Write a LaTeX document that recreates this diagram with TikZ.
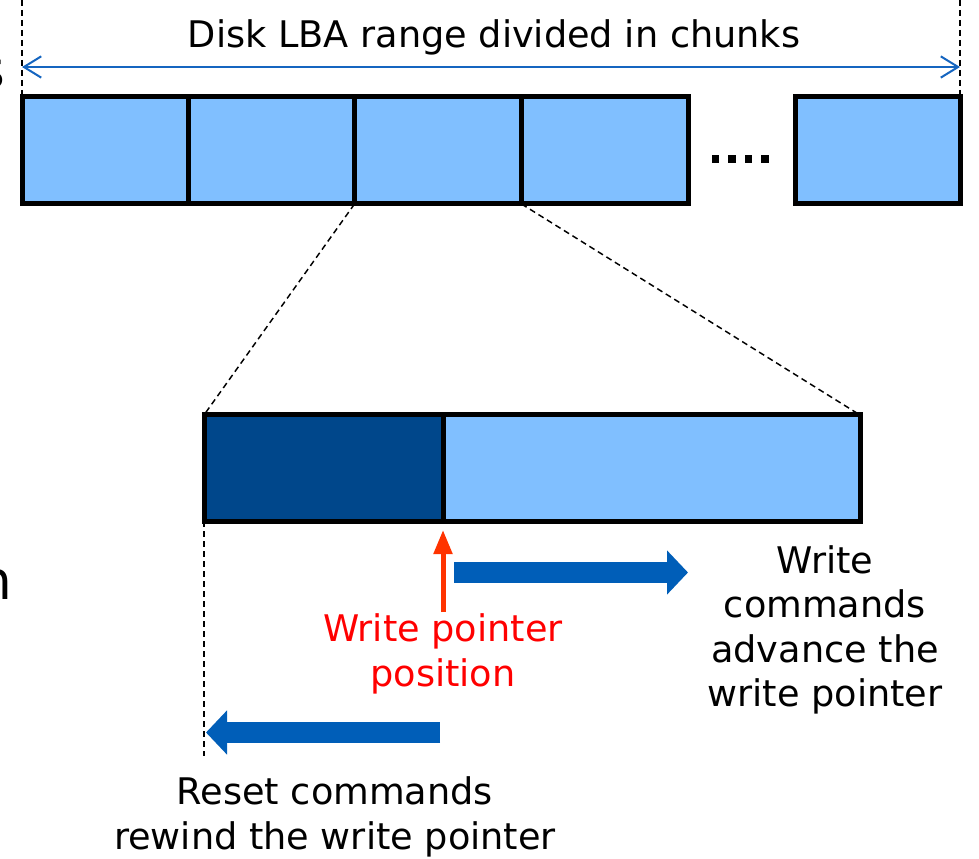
\documentclass[tikz,border=0pt]{standalone}
\usepackage{fontspec}
\setmainfont{DejaVu Sans}
\usetikzlibrary{arrows.meta}

\definecolor{chunklight}{RGB}{128,191,255}
\definecolor{chunkdark}{RGB}{0,71,139}
\definecolor{rangeblue}{RGB}{21,101,192}
\definecolor{cmdblue}{RGB}{0,94,184}
\definecolor{ptrred}{RGB}{255,51,0}
\definecolor{labelred}{RGB}{255,0,0}

\tikzset{
  chunk/.style={draw=black, line width=3.75pt, fill=chunklight, inner sep=0pt, outer sep=0pt,
    minimum width=125.25pt, minimum height=80.25pt},
  zoomline/.style={draw=black, line width=1.1pt, dash pattern=on 4.5pt off 3pt},
  caption/.style={font=\fontsize{27.5pt}{33.4pt}\selectfont, align=center, inner sep=0pt},
  bigcmd/.style={draw=cmdblue, line width=15.75pt,
    -{Triangle[length=15.75pt, width=32.25pt]}},
}

\begin{document}
\begin{tikzpicture}[x=0.75pt, y=-0.75pt]
  \useasboundingbox (0,0) rectangle (979,859);

  % chunk row
  \node[chunk] (c1) at (105.5,150.5) {};
  \node[chunk] (c2) at (272,150.5) {};
  \node[chunk] (c3) at (438,150.5) {};
  \node[chunk] (c4) at (604.5,150.5) {};
  \node[chunk, minimum width=123.75pt] (c5) at (877.5,150.5) {};

  % ellipsis between the last chunks
  \foreach \dx in {0,16.5,33,49.5}
    \fill (711.5+\dx,155.5) rectangle ++(7.5,7.5);

  % range marks and span arrow
  \coordinate (topL) at (22,0);
  \coordinate (topR) at (960,0);
  \draw[zoomline] (topL) -- (c1.north west);
  \draw[zoomline] (topR) -- (c5.north east);
  \coordinate (spanL) at (22,67);
  \coordinate (spanR) at (960,67);
  \draw[rangeblue, line width=1.5pt,
    {Straight Barb[length=13pt, width=16pt]}-{Straight Barb[length=13pt, width=16pt]}]
    (spanL) -- (spanR);
  \node[caption] (title) at (494,37) {Disk LBA range divided in chunks};

  % enlarged chunk
  \node[chunk, fill=chunkdark, minimum width=179.25pt, minimum height=79.5pt] (used) at (323.5,468) {};
  \node[chunk, minimum width=312.75pt, minimum height=79.5pt] (free) at (651.5,468) {};

  \draw[zoomline] (c3.south west) -- (used.north west);
  \draw[zoomline] (c3.south east) -- (free.north east);

  \coordinate (startLow) at (204,756);
  \draw[zoomline] (used.south west) -- (startLow);

  % write pointer
  \coordinate (ptrTail) at (443,612);
  \coordinate (ptrTip) at (443,530);
  \draw[ptrred, line width=3.75pt, -{Triangle[length=18pt, width=13.5pt]}] (ptrTail) -- (ptrTip);
  \node[caption, text=labelred] (ptrlabel) at (443,654) {Write pointer\\position};

  % write commands
  \coordinate (advA) at (454,572.5);
  \coordinate (advB) at (688,572.5);
  \draw[bigcmd] (advA) -- (advB);
  \node[caption] (advlabel) at (825,630) {Write\\commands\\advance the\\write pointer};

  % reset commands
  \coordinate (rstA) at (440,732.5);
  \coordinate (rstB) at (206,732.5);
  \draw[bigcmd] (rstA) -- (rstB);
  \node[caption] (rstlabel) at (335,817) {Reset commands\\rewind the write pointer};

  % letters running in from the left edge
  \node[font=\fontsize{40pt}{48pt}\selectfont, anchor=east, inner sep=0pt] (edgeS) at (6,74) {s};
  \node[font=\fontsize{40pt}{48pt}\selectfont, anchor=east, inner sep=0pt] (edgeN) at (13,585) {n};
\end{tikzpicture}
\end{document}
